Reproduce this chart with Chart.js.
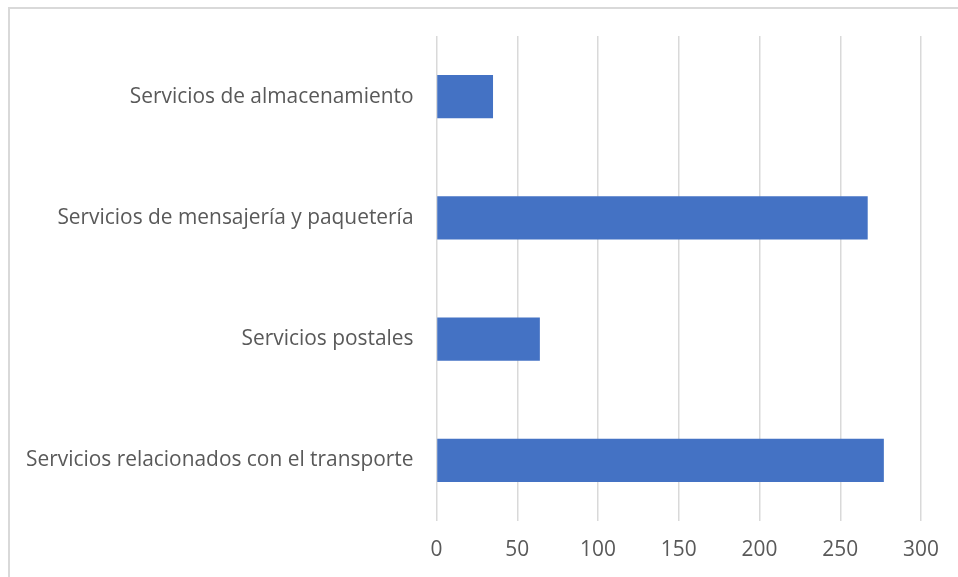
<!DOCTYPE html>
<html>
<head>
<meta charset="utf-8">
<script src="https://cdn.jsdelivr.net/npm/chart.js@4"></script>
<style>
  html, body { margin: 0; padding: 0; background: #fff; }
  #wrap { position: relative; width: 958px; height: 577px; overflow: hidden; }
  #frame { position: absolute; left: 8px; top: 7px; width: 1000px; height: 1000px;
           border-left: 2px solid #d9d9d9; border-top: 2px solid #d9d9d9; box-sizing: border-box; pointer-events: none; }
  canvas { position: absolute; left: 0; top: 0; }
</style>
</head>
<body>
<div id="wrap">
  <canvas id="chart" width="958" height="577"></canvas>
  <div id="frame"></div>
</div>
<script>
// categories, top to bottom
var categories = [
  'Servicios de almacenamiento',
  'Servicios de mensajería y paquetería',
  'Servicios postales',
  'Servicios relacionados con el transporte'
];
var values = [35, 267, 64, 277];
var xTicks = [0, 50, 100, 150, 200, 250, 300];

var textColor = '#595959';
var font = { family: "'Open Sans', 'Liberation Sans', sans-serif", size: 20.9 };

var ctx = document.getElementById('chart').getContext('2d');
var chart = new Chart(ctx, {
  type: 'bar',
  data: {
    labels: categories,
    datasets: [{
      data: values,
      backgroundColor: '#4472C4',
      borderWidth: 0,
      categoryPercentage: 1,
      barPercentage: 0.355
    }]
  },
  options: {
    indexAxis: 'y',
    responsive: false,
    animation: false,
    devicePixelRatio: 1,
    layout: { padding: { left: 8, top: 36, right: 37, bottom: 0 } },
    plugins: { legend: { display: false }, tooltip: { enabled: false } },
    scales: {
      x: {
        min: 0,
        max: 300,
        afterBuildTicks: function (scale) {
          scale.ticks = xTicks.map(function (v) { return { value: v }; });
        },
        afterFit: function (scale) { scale.height = 56; },
        grid: { color: '#d9d9d9', lineWidth: 1.5, drawTicks: false },
        border: { display: false },
        ticks: { color: textColor, font: font, padding: 17, maxRotation: 0 }
      },
      y: {
        afterFit: function (scale) { scale.width = 428.5; },
        grid: { display: false, drawTicks: false },
        border: { display: false },
        ticks: { color: textColor, font: font, padding: 23 }
      }
    }
  }
});
</script>
</body>
</html>
